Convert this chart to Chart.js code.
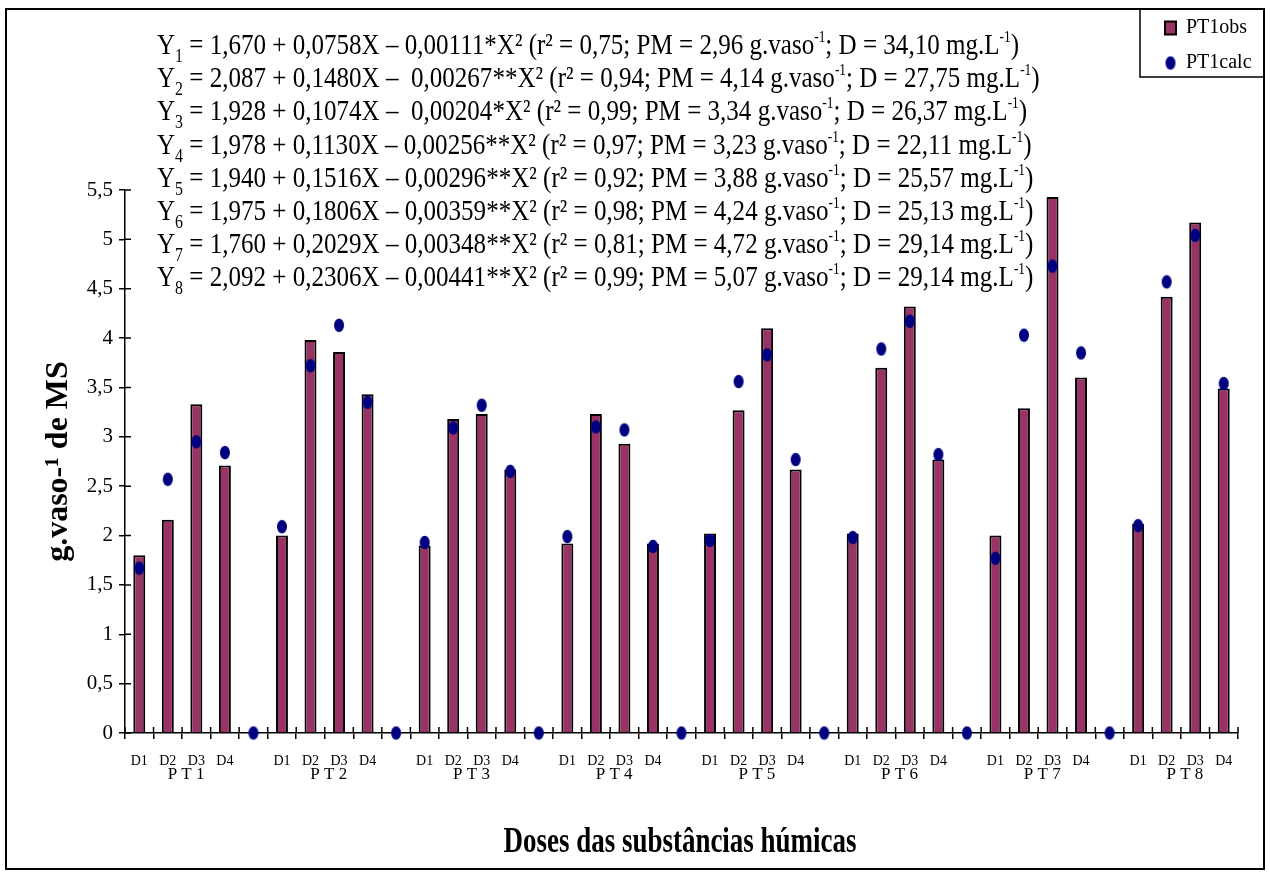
<!DOCTYPE html>
<html>
<head>
<meta charset="utf-8">
<script src="https://cdn.jsdelivr.net/npm/chart.js@4.4.0/dist/chart.umd.min.js"></script>
<style>
body { margin: 0; background: #fff; }
</style>
</head>
<body>
<canvas id="grafico" width="1270" height="875"></canvas>
<script>
// categorias: 8 grupos de 4 doses, com um espaco vazio entre grupos
var grupos = ['PT1', 'PT2', 'PT3', 'PT4', 'PT5', 'PT6', 'PT7', 'PT8'];
var rotulos = ['D1', 'D2', 'D3', 'D4', '',
    'D1', 'D2', 'D3', 'D4', '',
    'D1', 'D2', 'D3', 'D4', '',
    'D1', 'D2', 'D3', 'D4', '',
    'D1', 'D2', 'D3', 'D4', '',
    'D1', 'D2', 'D3', 'D4', '',
    'D1', 'D2', 'D3', 'D4', '',
    'D1', 'D2', 'D3', 'D4'];

// valores observados (barras)
var pt1obs = [1.80, 2.16, 3.33, 2.71, null,
    2.00, 3.98, 3.86, 3.43, null,
    1.90, 3.18, 3.23, 2.67, null,
    1.92, 3.23, 2.93, 1.92, null,
    2.02, 3.27, 4.10, 2.67, null,
    2.02, 3.70, 4.32, 2.77, null,
    2.00, 3.29, 5.43, 3.60, null,
    2.12, 4.42, 5.17, 3.49];

// valores calculados (pontos)
var pt1calc = [1.67, 2.57, 2.95, 2.84, 0,
    2.09, 3.72, 4.13, 3.35, 0,
    1.93, 3.09, 3.32, 2.65, 0,
    1.99, 3.10, 3.07, 1.89, 0,
    1.95, 3.56, 3.83, 2.77, 0,
    1.98, 3.89, 4.17, 2.82, 0,
    1.77, 4.03, 4.73, 3.85, 0,
    2.10, 4.57, 5.04, 3.54];

// equacoes de regressao
var eqCorpo = [
    ' = 1,670 + 0,0758X \u2013 0,00111*X\u00b2 (r\u00b2 = 0,75; PM = 2,96 g.vaso',
    ' = 2,087 + 0,1480X \u2013  0,00267**X\u00b2 (r\u00b2 = 0,94; PM = 4,14 g.vaso',
    ' = 1,928 + 0,1074X \u2013  0,00204*X\u00b2 (r\u00b2 = 0,99; PM = 3,34 g.vaso',
    ' = 1,978 + 0,1130X \u2013 0,00256**X\u00b2 (r\u00b2 = 0,97; PM = 3,23 g.vaso',
    ' = 1,940 + 0,1516X \u2013 0,00296**X\u00b2 (r\u00b2 = 0,92; PM = 3,88 g.vaso',
    ' = 1,975 + 0,1806X \u2013 0,00359**X\u00b2 (r\u00b2 = 0,98; PM = 4,24 g.vaso',
    ' = 1,760 + 0,2029X \u2013 0,00348**X\u00b2 (r\u00b2 = 0,81; PM = 4,72 g.vaso',
    ' = 2,092 + 0,2306X \u2013 0,00441**X\u00b2 (r\u00b2 = 0,99; PM = 5,07 g.vaso'
];
var eqDose = ['34,10', '27,75', '26,37', '22,11', '25,57', '25,13', '29,14', '29,14'];

var fonte = '"Liberation Serif", "Times New Roman", serif';

// ponto elipse azul do PT1calc
var ponto = document.createElement('canvas');
ponto.width = 12;
ponto.height = 15;
var pctx = ponto.getContext('2d');
pctx.fillStyle = '#000080';
pctx.beginPath();
pctx.ellipse(6, 7.5, 5, 6.8, 0, 0, 2 * Math.PI);
pctx.fill();

function desenhaLinha(ctx, partes, x, y, escala) {
    ctx.save();
    ctx.translate(x, y);
    ctx.scale(escala, 1);
    var cx = 0;
    partes.forEach(function (p) {
        if (p[0] == 'sub') {
            ctx.font = '19px ' + fonte;
            ctx.fillText(p[1], cx, 8);
        } else if (p[0] == 'sup') {
            ctx.font = '16px ' + fonte;
            ctx.fillText(p[1], cx, -12);
        } else {
            ctx.font = '30px ' + fonte;
            ctx.fillText(p[1], cx, 0);
        }
        cx += ctx.measureText(p[1]).width;
    });
    ctx.restore();
    return cx;
}

function partesEq(i) {
    return [['n', 'Y'], ['sub', String(i + 1)], ['n', eqCorpo[i]], ['sup', '-1'],
        ['n', '; D = ' + eqDose[i] + ' mg.L'], ['sup', '-1'], ['n', ')']];
}

var fundo = {
    id: 'fundo',
    beforeDraw: function (chart) {
        var ctx = chart.ctx;
        ctx.save();
        ctx.fillStyle = '#fff';
        ctx.fillRect(0, 0, chart.width, chart.height);
        ctx.strokeStyle = '#000';
        ctx.lineWidth = 2;
        ctx.strokeRect(6, 9, 1258, 860);
        ctx.restore();
    }
};

var moveLegenda = {
    id: 'moveLegenda',
    afterLayout: function (chart) {
        var lg = chart.legend;
        var w = lg.width, h = lg.height;
        lg.left = 1150;
        lg.top = 3;
        lg.right = lg.left + w;
        lg.bottom = lg.top + h;
    }
};

var textos = {
    id: 'textos',
    afterDraw: function (chart) {
        var ctx = chart.ctx;
        var xs = chart.scales.x, ys = chart.scales.y;
        var area = chart.chartArea;
        ctx.save();
        ctx.fillStyle = '#000';
        ctx.textBaseline = 'alphabetic';
        ctx.textAlign = 'left';

        // equacoes (fonte comprimida como no original)
        ctx.save();
        ctx.globalAlpha = 0;
        var larg = desenhaLinha(ctx, partesEq(0), 0, -100, 1);
        ctx.restore();
        var escala = 862 / larg;
        for (var i = 0; i < eqCorpo.length; i++) {
            desenhaLinha(ctx, partesEq(i), 157, 54 + i * 33.2, escala);
        }

        // marcas dos eixos do lado de dentro
        ctx.strokeStyle = '#000';
        ctx.lineWidth = 1.5;
        ctx.beginPath();
        ys.ticks.forEach(function (t, k) {
            var py = ys.getPixelForTick(k);
            ctx.moveTo(area.left, py);
            ctx.lineTo(area.left + 6, py);
        });
        var passo = xs.getPixelForValue(1) - xs.getPixelForValue(0);
        for (var k = 0; k <= rotulos.length; k++) {
            var px = xs.getPixelForValue(k) - passo / 2;
            ctx.moveTo(px, area.bottom);
            ctx.lineTo(px, area.bottom - 6);
        }
        ctx.stroke();

        // nomes dos grupos
        ctx.textAlign = 'center';
        ctx.font = '17px ' + fonte;
        grupos.forEach(function (g, k) {
            var cx = (xs.getPixelForValue(k * 5 + 1) + xs.getPixelForValue(k * 5 + 2)) / 2 + 4;
            ctx.fillText(g.split('').join(' '), cx, 779);
        });

        // titulo do eixo x
        ctx.save();
        ctx.font = 'bold 36px ' + fonte;
        var tit = 'Doses das substâncias húmicas';
        var tw = ctx.measureText(tit).width;
        ctx.translate(680, 852);
        ctx.scale(353 / tw, 1);
        ctx.fillText(tit, 0, 0);
        ctx.restore();

        // moldura da legenda
        ctx.lineWidth = 1.5;
        ctx.strokeRect(1140, 9, 124, 68);
        ctx.restore();
    }
};

new Chart(document.getElementById('grafico'), {
    type: 'bar',
    data: {
        labels: rotulos,
        datasets: [{
                type: 'line',
                label: 'PT1calc',
                data: pt1calc,
                showLine: false,
                pointStyle: ponto,
                pointRadius: 6,
                backgroundColor: '#000080',
                borderColor: '#000080',
                clip: false,
                order: 1
            },
            {
                type: 'bar',
                label: 'PT1obs',
                data: pt1obs,
                backgroundColor: '#993366',
                borderColor: '#000',
                borderWidth: 2,
                barPercentage: 0.42,
                categoryPercentage: 1,
                pointStyle: 'rect',
                order: 2
            }
        ]
    },
    options: {
        responsive: false,
        animation: false,
        devicePixelRatio: 1,
        layout: {
            padding: { top: 190, right: 32, bottom: 0, left: 0 }
        },
        plugins: {
            tooltip: { enabled: false },
            legend: {
                position: 'chartArea',
                align: 'start',
                reverse: true,
                labels: {
                    usePointStyle: true,
                    pointStyleWidth: 11,
                    boxHeight: 13,
                    padding: 15,
                    color: '#000',
                    font: { family: fonte, size: 20 }
                }
            }
        },
        scales: {
            x: {
                offset: true,
                grid: { offset: true, drawOnChartArea: false, tickLength: 6, color: '#000', lineWidth: 1.5 },
                border: { color: '#000', width: 1.5 },
                ticks: {
                    autoSkip: false,
                    maxRotation: 0,
                    padding: 14,
                    color: '#000',
                    font: { family: fonte, size: 14 }
                },
                afterFit: function (s) { s.height = 142; }
            },
            y: {
                min: 0,
                max: 5.5,
                grid: { drawOnChartArea: false, tickLength: 6, color: '#000', lineWidth: 1.5 },
                border: { color: '#000', width: 1.5 },
                ticks: {
                    stepSize: 0.5,
                    padding: 6,
                    color: '#000',
                    font: { family: fonte, size: 21 },
                    callback: function (v) { return String(v).replace('.', ','); }
                },
                title: {
                    display: true,
                    text: 'g.vaso-¹ de MS',
                    color: '#000',
                    font: { family: fonte, size: 32, weight: 'bold' },
                    padding: { top: 40, bottom: 0 }
                },
                afterFit: function (s) { s.width = 125; }
            }
        }
    },
    plugins: [fundo, moveLegenda, textos]
});
</script>
</body>
</html>
